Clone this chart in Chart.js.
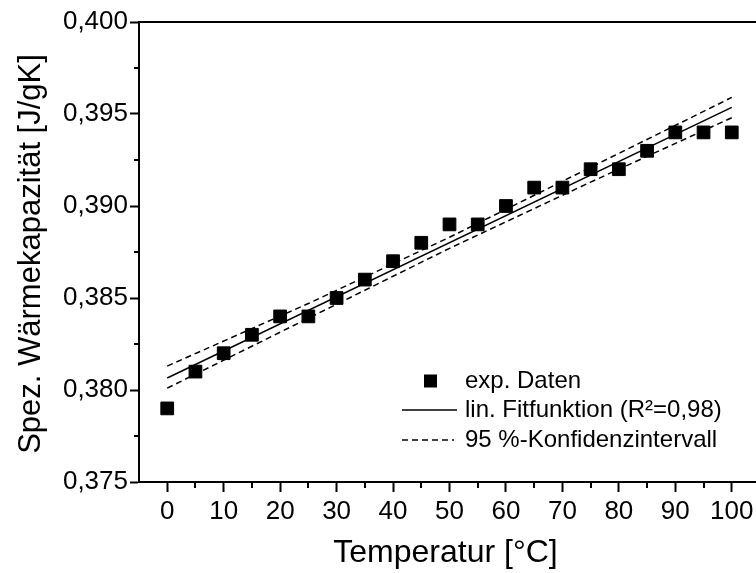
<!DOCTYPE html>
<html>
<head>
<meta charset="utf-8">
<script src="https://cdn.jsdelivr.net/npm/chart.js@4"></script>
<style>
  html, body { margin: 0; padding: 0; background: #fff; overflow: hidden; }
  canvas { display: block; }
</style>
</head>
<body>
<canvas id="myChart" width="776" height="573"></canvas>
<script>
const temps = [0, 5, 10, 15, 20, 25, 30, 35, 40, 45, 50, 55, 60, 65, 70, 75, 80, 85, 90, 95, 100];
const cp = [0.379, 0.381, 0.382, 0.383, 0.384, 0.384, 0.385, 0.386, 0.387, 0.388, 0.389,
            0.389, 0.390, 0.391, 0.391, 0.392, 0.392, 0.393, 0.394, 0.394, 0.394];

const fitX = [0, 100];
const fitY = [0.38065, 0.39536];

const ciX = [0, 25, 50, 75, 100];
const ciUpper = [0.3813, 0.3847, 0.3883, 0.3921, 0.3959];
const ciLower = [0.3801, 0.3839, 0.3877, 0.3913, 0.3948];

const xTicks = [0, 10, 20, 30, 40, 50, 60, 70, 80, 90, 100];
const xMinor = [5, 15, 25, 35, 45, 55, 65, 75, 85, 95];
const yTicks = [0.375, 0.380, 0.385, 0.390, 0.395, 0.400];
const yMinor = [0.3775, 0.3825, 0.3875, 0.3925, 0.3975];

const legendLabels = ['exp. Daten', 'lin. Fitfunktion (R²=0,98)', '95 %-Konfidenzintervall'];
const xTitle = 'Temperatur [°C]';
const yTitle = 'Spez. Wärmekapazität [J/gK]';

const FONT = 'Arial, "Liberation Sans", sans-serif';

const pts = (xs, ys) => xs.map((x, i) => ({ x: x, y: ys[i] }));

// frame top line, minor ticks, axis titles and the legend inside the plot
const extras = {
  id: 'extras',
  afterDraw(chart) {
    const ctx = chart.ctx;
    const a = chart.chartArea;
    const xs = chart.scales.x, ys = chart.scales.y;
    ctx.save();
    ctx.strokeStyle = '#000';
    ctx.lineWidth = 2;
    ctx.beginPath();
    ctx.moveTo(a.left - 1, a.top);
    ctx.lineTo(a.right, a.top);
    xMinor.forEach(v => {
      const px = Math.round(xs.getPixelForValue(v));
      ctx.moveTo(px, a.bottom);
      ctx.lineTo(px, a.bottom + 6);
    });
    yMinor.forEach(v => {
      const py = Math.round(ys.getPixelForValue(v));
      ctx.moveTo(a.left, py);
      ctx.lineTo(a.left - 5, py);
    });
    ctx.stroke();

    ctx.fillStyle = '#000';
    ctx.textAlign = 'center';
    ctx.textBaseline = 'middle';
    ctx.font = '32px ' + FONT;
    ctx.fillText(xTitle, (a.left + a.right) / 2 - 4, 553);
    ctx.save();
    ctx.font = '31px ' + FONT;
    ctx.translate(31, 254);
    ctx.rotate(-Math.PI / 2);
    ctx.fillText(yTitle, 0, 0);
    ctx.restore();

    // legend
    const lx = 402, tx = 465;
    const rows = [381, 410, 440];
    ctx.fillRect(424, rows[0] - 6.5, 13, 13);
    ctx.lineWidth = 1.5;
    ctx.beginPath();
    ctx.moveTo(lx, rows[1]);
    ctx.lineTo(lx + 55, rows[1]);
    ctx.stroke();
    ctx.setLineDash([6, 4]);
    ctx.beginPath();
    ctx.moveTo(lx, rows[2]);
    ctx.lineTo(lx + 52, rows[2]);
    ctx.stroke();
    ctx.setLineDash([]);
    ctx.font = '24px ' + FONT;
    ctx.textAlign = 'left';
    legendLabels.forEach((t, i) => ctx.fillText(t, tx, rows[i]));
    ctx.restore();
  }
};

new Chart(document.getElementById('myChart'), {
  type: 'scatter',
  data: {
    datasets: [{
      label: legendLabels[0],
      data: pts(temps, cp),
      pointStyle: 'rect',
      pointRadius: 9,
      pointBorderWidth: 1,
      backgroundColor: '#000',
      borderColor: '#000'
    }, {
      label: legendLabels[1],
      data: pts(fitX, fitY),
      showLine: true,
      borderColor: '#000',
      borderWidth: 1.5,
      pointRadius: 0
    }, {
      label: legendLabels[2],
      data: pts(ciX, ciUpper),
      showLine: true,
      borderColor: '#000',
      borderWidth: 1.5,
      borderDash: [6, 4],
      pointRadius: 0
    }, {
      label: legendLabels[2],
      data: pts(ciX, ciLower),
      showLine: true,
      borderColor: '#000',
      borderWidth: 1.5,
      borderDash: [6, 4],
      pointRadius: 0
    }]
  },
  options: {
    responsive: false,
    animation: false,
    layout: { padding: { top: 22, right: 16, left: 0, bottom: 0 } },
    plugins: {
      legend: { display: false },
      tooltip: { enabled: false }
    },
    scales: {
      x: {
        type: 'linear',
        min: -5,
        max: 105,
        afterBuildTicks: s => { s.ticks = xTicks.map(v => ({ value: v })); },
        afterFit: s => { s.height = 91; },
        grid: { drawOnChartArea: false, tickLength: 10, tickWidth: 2, tickColor: '#000' },
        border: { display: true, color: '#000', width: 2 },
        ticks: {
          color: '#000',
          font: { size: 26, family: FONT },
          padding: 4,
          maxRotation: 0,
          autoSkip: false
        }
      },
      y: {
        type: 'linear',
        min: 0.375,
        max: 0.400,
        afterBuildTicks: s => { s.ticks = yTicks.map(v => ({ value: v })); },
        afterFit: s => { s.width = 139; },
        grid: { drawOnChartArea: false, tickLength: 9, tickWidth: 2, tickColor: '#000' },
        border: { display: true, color: '#000', width: 2 },
        ticks: {
          color: '#000',
          font: { size: 26, family: FONT },
          padding: 2,
          callback: v => v.toFixed(3).replace('.', ',')
        }
      }
    }
  },
  plugins: [extras]
});
</script>
</body>
</html>
